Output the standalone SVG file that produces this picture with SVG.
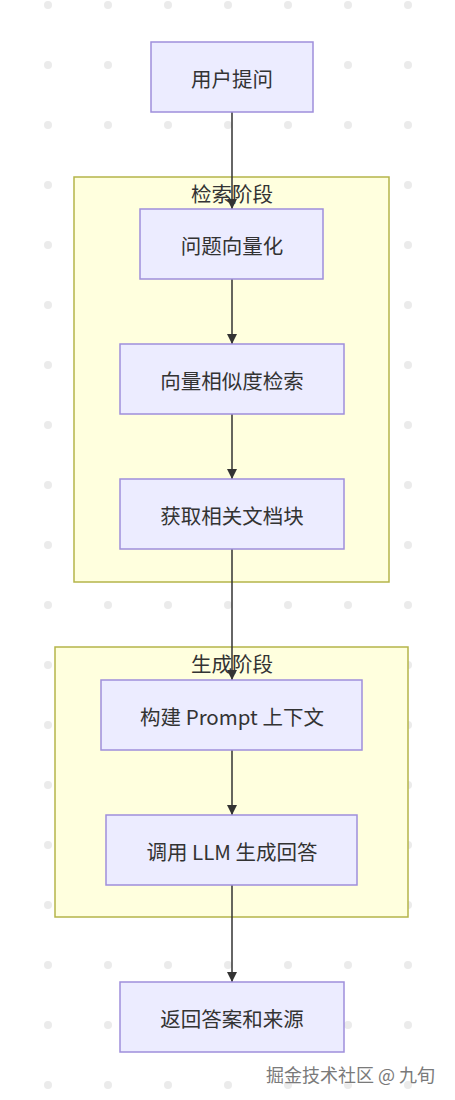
<svg xmlns="http://www.w3.org/2000/svg" width="455" height="1100" viewBox="0 0 455 1100">
<style>
.node rect{fill:#ECECFF;stroke:#9F8FDB;stroke-width:1.5}
.cluster rect{fill:#FFFFDE;stroke:#B5B54A;stroke-width:1.5}
text{font-family:"Noto Sans CJK SC","Noto Sans",sans-serif;font-size:20.5px;fill:#333;text-anchor:middle;dominant-baseline:central}
.edge{stroke:#333;stroke-width:1.5;fill:none;marker-end:url(#arrow)}
.wm{font-size:18px;fill:#7a7a7a;stroke:#fff;stroke-width:0.6;paint-order:stroke;text-anchor:start}
</style>
<defs>
<pattern id="dots" patternUnits="userSpaceOnUse" width="60" height="60">
<circle cx="48" cy="5" r="4" fill="#ebebeb"/>
</pattern>
<marker id="arrow" viewBox="0 0 10 10" refX="10" refY="5" markerWidth="7" markerHeight="7.5" markerUnits="strokeWidth" orient="auto">
<path d="M0,0 L10,5 L0,10 z" fill="#333"/>
</marker>
</defs>
<rect width="455" height="1100" fill="#fff"/>
<rect width="455" height="1100" fill="url(#dots)"/>
<g id="cluster-retrieve" class="cluster">
<rect x="74" y="177" width="315" height="405"/>
<text x="232" y="193">检索阶段</text>
</g>
<g id="cluster-generate" class="cluster">
<rect x="55" y="647" width="353" height="270"/>
<text x="232" y="663">生成阶段</text>
</g>
<g id="connectors">
<line class="edge" x1="232" y1="112" x2="232" y2="209"/>
<line class="edge" x1="232" y1="279" x2="232" y2="344"/>
<line class="edge" x1="232" y1="414" x2="232" y2="479"/>
<line class="edge" x1="232" y1="549" x2="232" y2="680"/>
<line class="edge" x1="232" y1="750" x2="232" y2="815"/>
<line class="edge" x1="232" y1="885" x2="232" y2="982"/>
</g>
<g id="n1" class="node"><rect x="151" y="42" width="162" height="70"/><text x="232" y="78">用户提问</text></g>
<g id="n2" class="node"><rect x="140" y="209" width="183" height="70"/><text x="232" y="245">问题向量化</text></g>
<g id="n3" class="node"><rect x="120" y="344" width="224" height="70"/><text x="232" y="380">向量相似度检索</text></g>
<g id="n4" class="node"><rect x="120" y="479" width="224" height="70"/><text x="232" y="515">获取相关文档块</text></g>
<g id="n5" class="node"><rect x="101" y="680" width="261" height="70"/><text x="232" y="716">构建 Prompt 上下文</text></g>
<g id="n6" class="node"><rect x="106" y="815" width="251" height="70"/><text x="232" y="851">调用 LLM 生成回答</text></g>
<g id="n7" class="node"><rect x="120" y="982" width="224" height="70"/><text x="232" y="1018">返回答案和来源</text></g>
<text class="wm" x="266" y="1074">掘金技术社区 @ 九旬</text>
</svg>
